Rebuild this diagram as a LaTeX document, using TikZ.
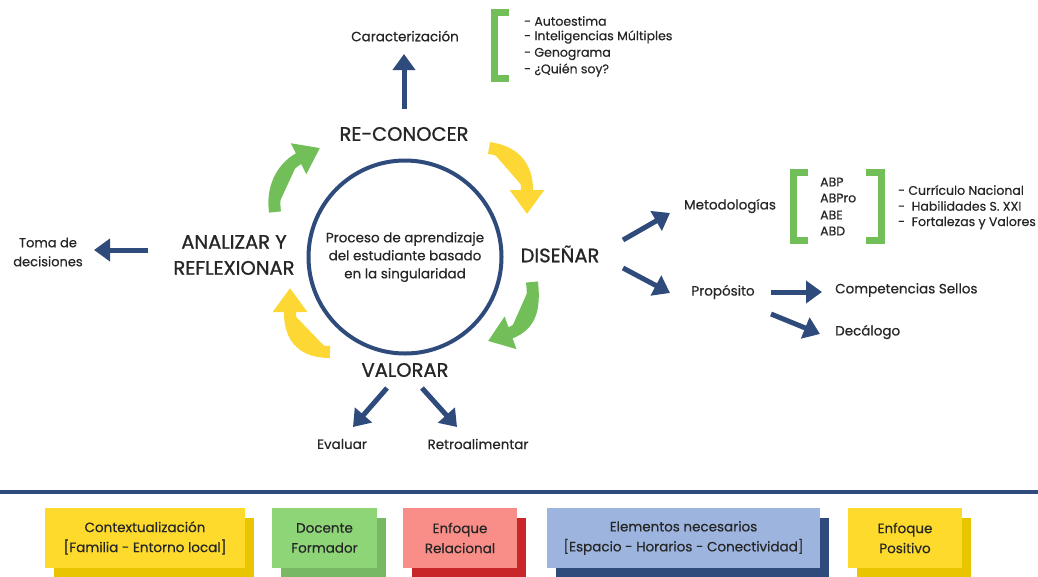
\documentclass[tikz,border=0pt]{standalone}
\usepackage{fontspec}
\setmainfont{Poppins}[FakeBold=0.45]
\newfontfamily\bigfont{Poppins}[FakeBold=1.1]
\usetikzlibrary{arrows.meta,shadows}
\definecolor{navy}{HTML}{2F4B7C}
\definecolor{ylw}{HTML}{FDD835}
\definecolor{grn}{HTML}{72BF5A}
\definecolor{txt}{HTML}{262626}
\definecolor{byl}{HTML}{FDDA2C}
\definecolor{bylD}{HTML}{E9C500}
\definecolor{bgr}{HTML}{8DD577}
\definecolor{bgrD}{HTML}{78B862}
\definecolor{brd}{HTML}{F98E89}
\definecolor{brdD}{HTML}{C9262A}
\definecolor{bbl}{HTML}{9DB5DE}
\begin{document}
\begin{tikzpicture}[x=1pt,y=-1pt,
  lbl/.style={font=\fontsize{13.5}{18}\selectfont, text=txt, inner sep=0pt, align=center},
  lst/.style={font=\fontsize{12.5}{16}\selectfont, text=txt, inner sep=0pt, anchor=west},
  big/.style={font=\bigfont\fontsize{19.5}{26}\selectfont, text=txt, align=center, inner sep=0pt},
  barrow/.style={draw=navy, line width=5pt, -{Triangle[width=22pt,length=16pt]}},
  farrow/.style={line width=12pt, -{Triangle[width=33pt,length=24pt]}},
  brk/.style={draw=grn, line width=7pt},
  bx/.style={font=\fontsize{13.5}{20}\selectfont, text=txt, align=center, minimum height=60pt, inner sep=0pt},
]
\useasboundingbox (0,0) rectangle (1038,576);
\fill[white] (0,0) rectangle (1038,576);

% central circle
\node[circle, draw=navy, line width=4pt, minimum size=193pt, lbl] (core) at (405,257)
  {Proceso de aprendizaje\\del estudiante basado\\en la singularidad};

% stage labels
\node[big] (recon) at (404,134) {RE-CONOCER};
\node[big] (dis) at (560,254) {DISEÑAR};
\node[big] (val) at (405,370) {VALORAR};
\node[big] (ana) at (234,255) {ANALIZAR Y\\REFLEXIONAR};

% cycle arrows
\draw[farrow, draw=ylw, fill=ylw] (489,148) .. controls (518,152) and (527,170) .. (527,190) -- (527,214);
\draw[farrow, draw=grn, fill=grn] (532,282) .. controls (535,310) and (530,325) .. (510,333) -- (488,341);
\draw[farrow, draw=ylw, fill=ylw] (330,352) .. controls (305,352) and (290,340) .. (290,313) -- (290,288);
\draw[farrow, draw=grn, fill=grn] (275,212) .. controls (272,190) and (280,170) .. (298,159) -- (320,148);

% top branch
\node[lbl] (carac) at (405,36) {Caracterización};
\coordinate (c1) at (404,109);
\coordinate (c2) at (404,54);
\draw[barrow] (c1) -- (c2);
\draw[brk] (509,12) -- (494,12) -- (494,78) -- (509,78);
\node[lst] (l1) at (524,21) {- Autoestima};
\node[lst] (l2) at (524,37) {- Inteligencias Múltiples};
\node[lst] (l3) at (524,54) {- Genograma};
\node[lst] (l4) at (524,70) {- ¿Quién soy?};

% right branch
\coordinate (d1) at (623,240);
\coordinate (d2) at (670,213);
\coordinate (d3) at (623,268);
\coordinate (d4) at (670,293);
\draw[barrow] (d1) -- (d2);
\draw[barrow] (d3) -- (d4);
\node[lbl] (met) at (730,206) {Metodologías};
\draw[brk] (808,172) -- (793,172) -- (793,240) -- (808,240);
\draw[brk] (866,172) -- (881,172) -- (881,240) -- (866,240);
\node[lst] (m1) at (820,182) {ABP};
\node[lst] (m2) at (820,198) {ABPro};
\node[lst] (m3) at (820,215) {ABE};
\node[lst] (m4) at (820,231) {ABD};
\node[lst] (r1) at (898,190) {- Currículo Nacional};
\node[lst] (r2) at (898,206) {-~ Habilidades S. XXI};
\node[lst] (r3) at (898,223) {-~ Fortalezas y Valores};
\node[lbl] (prop) at (723,292) {Propósito};
\node[lst, font=\fontsize{13.5}{16}\selectfont] (comp) at (835,290) {Competencias Sellos};
\node[lst, font=\fontsize{13.5}{16}\selectfont] (deca) at (835,332) {Decálogo};
\coordinate (p1) at (771,292);
\coordinate (p2) at (822,292);
\coordinate (p3) at (771,314);
\coordinate (p4) at (820,334);
\draw[barrow] (p1) -- (p2);
\draw[barrow] (p3) -- (p4);

% left branch
\node[lbl, font=\fontsize{13}{19}\selectfont] (toma) at (48,252) {Toma de\\decisiones};
\coordinate (a1) at (148,250);
\coordinate (a2) at (94,250);
\draw[barrow] (a1) -- (a2);

% bottom branch
\node[lbl] (eval) at (342,444) {Evaluar};
\node[lbl] (retro) at (478,444) {Retroalimentar};
\coordinate (v1) at (387,388);
\coordinate (v2) at (353,427);
\coordinate (v3) at (422,388);
\coordinate (v4) at (457,427);
\draw[barrow] (v1) -- (v2);
\draw[barrow] (v3) -- (v4);

% separator
\draw[navy, line width=4pt] (0,492) -- (1038,492);

% bottom boxes
\node[bx, fill=byl, minimum width=200pt, drop shadow={shadow xshift=9pt, shadow yshift=-10pt, fill=bylD, opacity=1}] (b1) at (145,538)
  {Contextualización\\{[}Familia - Entorno local{]}};
\node[bx, fill=bgr, minimum width=105pt, drop shadow={shadow xshift=9pt, shadow yshift=-10pt, fill=bgrD, opacity=1}] (b2) at (324.5,538)
  {Docente\\Formador};
\node[bx, fill=brd, minimum width=114pt, drop shadow={shadow xshift=9pt, shadow yshift=-10pt, fill=brdD, opacity=1}] (b3) at (460,538)
  {Enfoque\\Relacional};
\node[bx, fill=bbl, minimum width=273pt, drop shadow={shadow xshift=9pt, shadow yshift=-10pt, fill=navy, opacity=1}] (b4) at (683.5,538)
  {Elementos necesarios\\{[}Espacio - Horarios - Conectividad{]}};
\node[bx, fill=byl, minimum width=114pt, drop shadow={shadow xshift=9pt, shadow yshift=-10pt, fill=bylD, opacity=1}] (b5) at (905,538)
  {Enfoque\\Positivo};
\end{tikzpicture}
\end{document}
